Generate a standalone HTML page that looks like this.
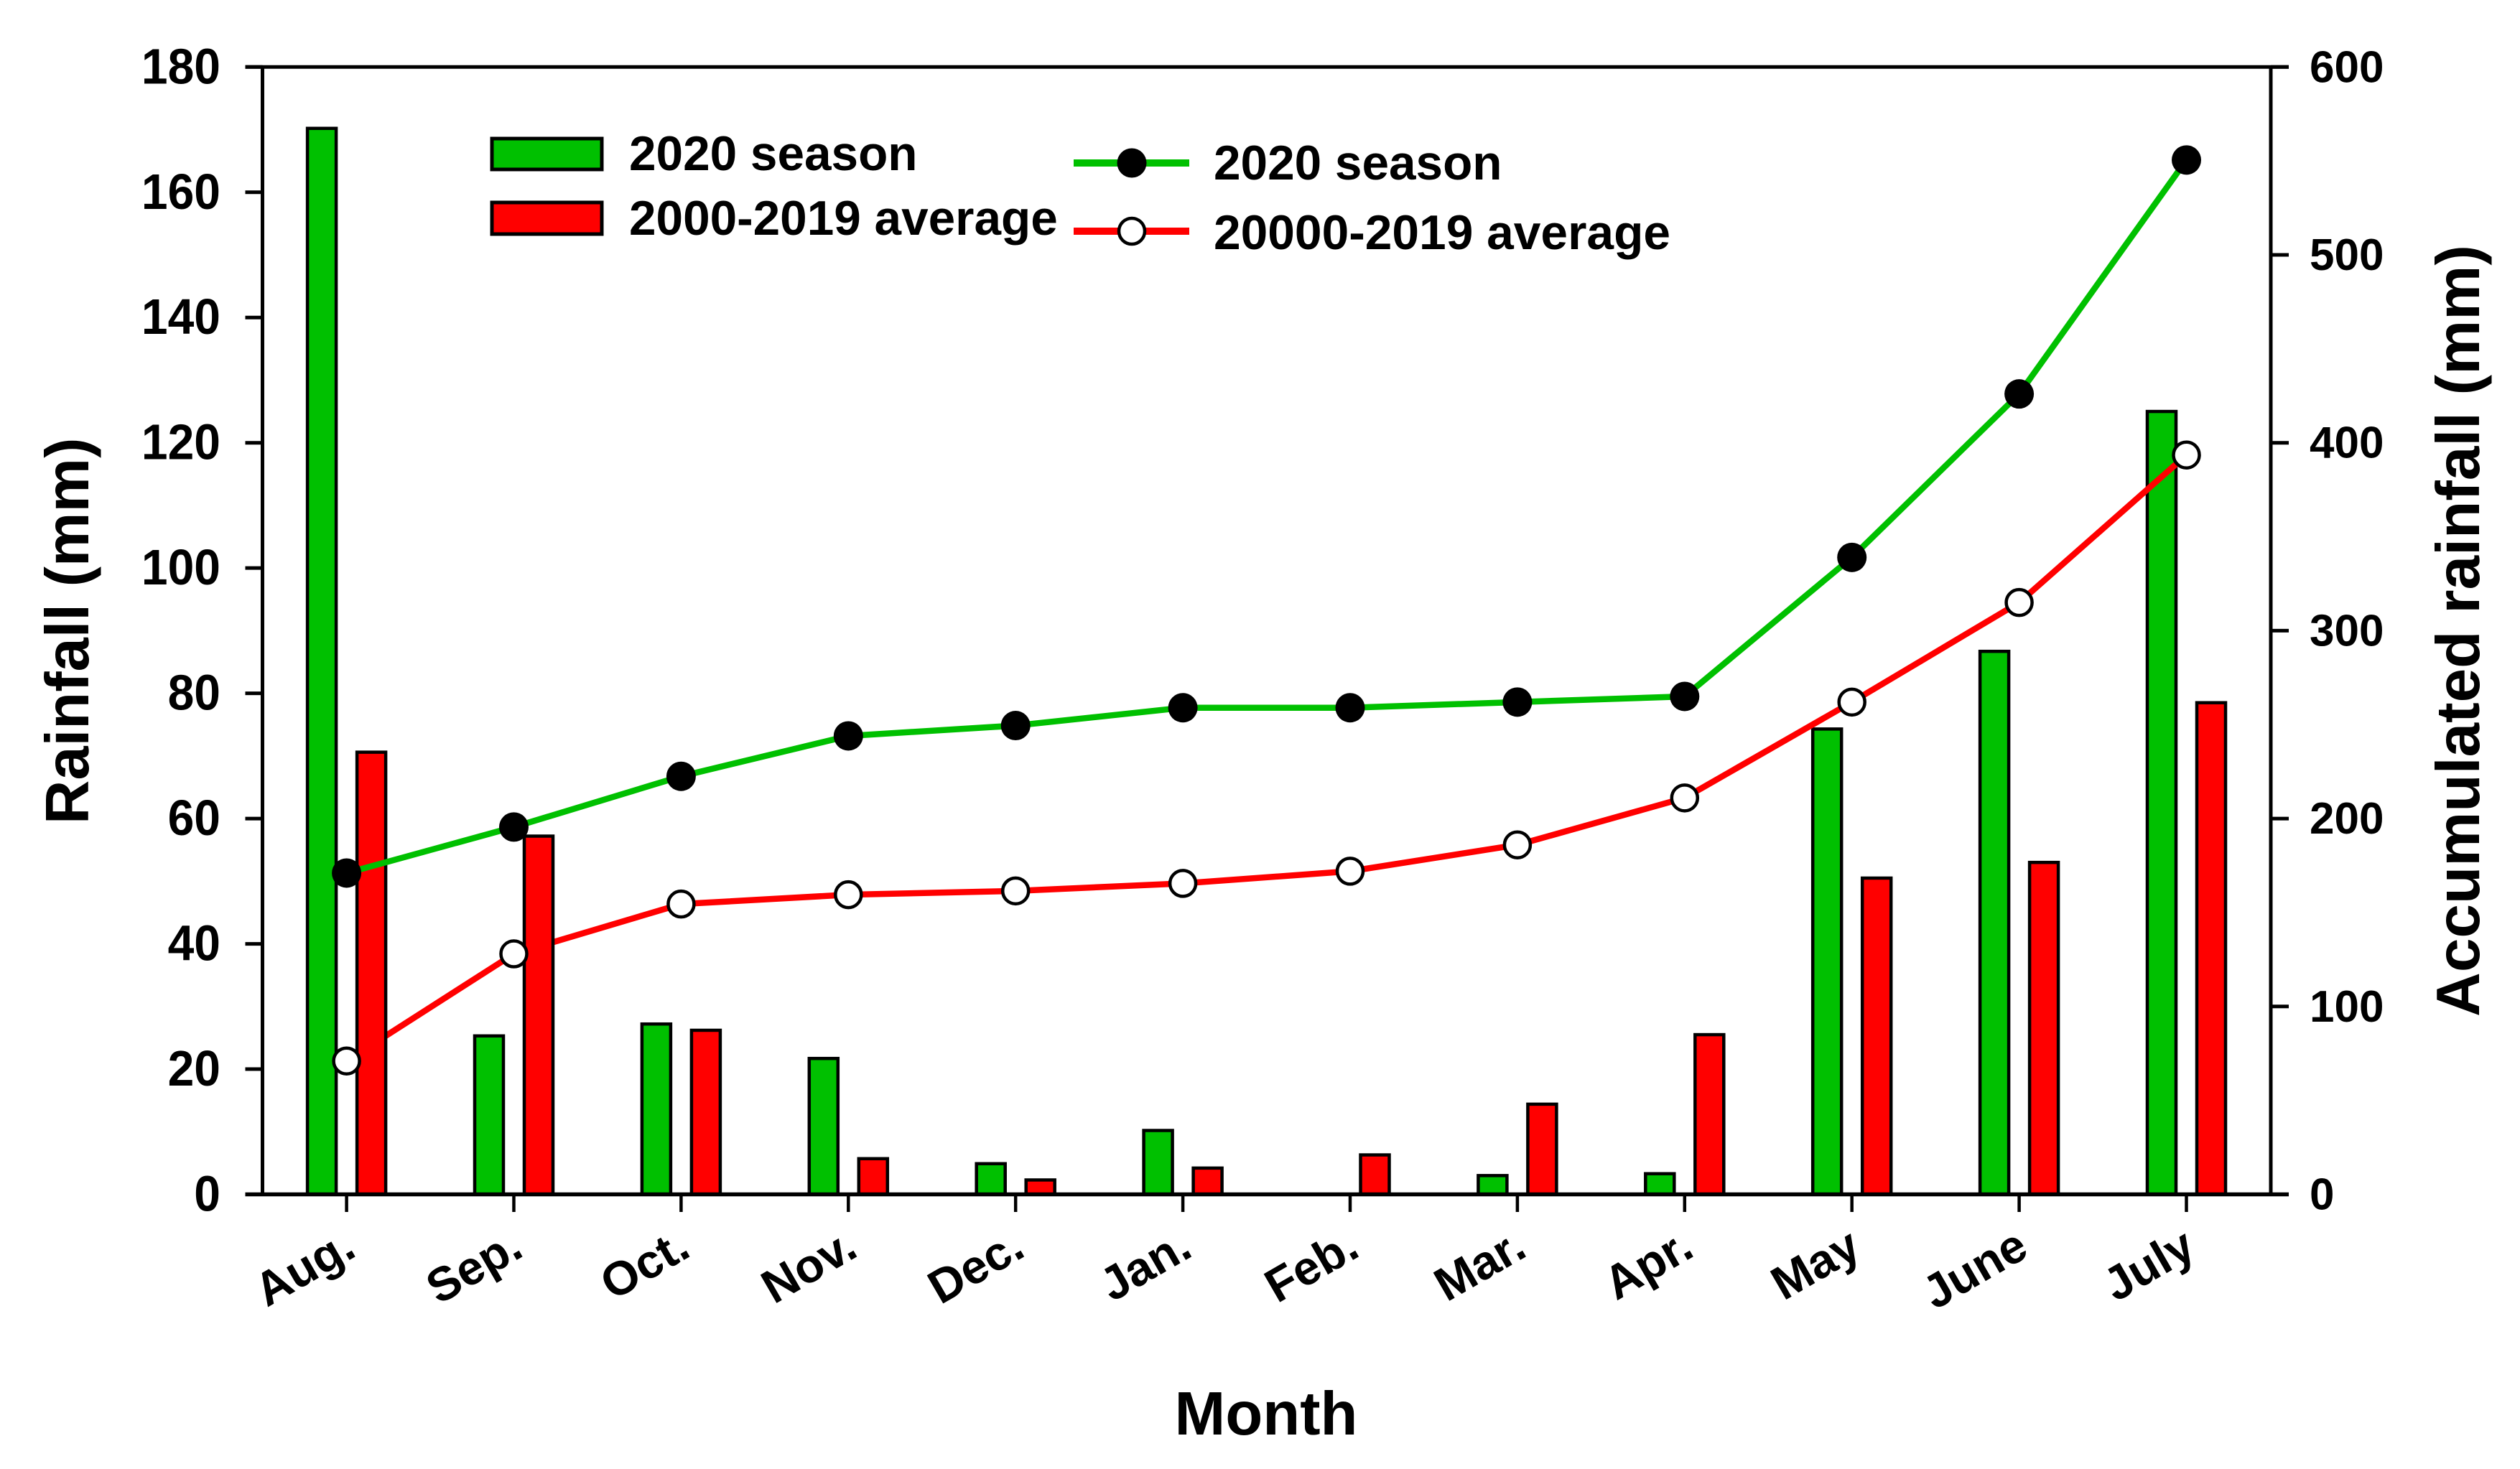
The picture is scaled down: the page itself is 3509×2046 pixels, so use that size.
<!DOCTYPE html>
<html lang="en">
<head>
<meta charset="utf-8">
<title>Monthly and accumulated rainfall</title>
<style>
html,body{margin:0;padding:0;background:#fff;}
svg{display:block;}
text{font-family:"Liberation Sans",Arial,sans-serif;font-weight:bold;fill:#000;}
</style>
</head>
<body>
<svg id="chart" xmlns="http://www.w3.org/2000/svg" width="3509" height="2046" viewBox="0 0 3509 2046">
  <rect x="0" y="0" width="3509" height="2046" fill="#fff"/>
  <g id="bars-2020"></g>
  <g id="line-average"></g>
  <g id="bars-average"></g>
  <g id="axes"></g>
  <g id="line-2020"></g>
  <g id="markers"></g>
  <text transform="translate(123,1148) rotate(-90)" font-size="85">Rainfall (mm)</text>
  <text transform="translate(3452,1416) rotate(-90)" font-size="85.6">Accumulated rainfall (mm)</text>
  <text x="1763" y="1998" text-anchor="middle" font-size="85">Month</text>
  <g>
    <rect x="685" y="193" width="153" height="43" fill="#00c000" stroke="#000" stroke-width="5"/>
    <text x="876" y="237" font-size="67.5">2020 season</text>
    <rect x="685" y="282" width="153" height="44" fill="#ff0000" stroke="#000" stroke-width="5"/>
    <text x="876" y="327" font-size="67.5">2000-2019 average</text>
    <line x1="1495" y1="227" x2="1656" y2="227" stroke="#00c000" stroke-width="10"/>
    <circle cx="1576" cy="227" r="20.5" fill="#000"/>
    <text x="1690" y="250" font-size="67.5">2020 season</text>
    <line x1="1495" y1="322" x2="1656" y2="322" stroke="#ff0000" stroke-width="10"/>
    <circle cx="1576" cy="322" r="18" fill="#fff" stroke="#000" stroke-width="4.5"/>
    <text x="1690" y="347" font-size="67.7">20000-2019 average</text>
  </g>
</svg>
<script>
const months = ["Aug.","Sep.","Oct.","Nov.","Dec.","Jan.","Feb.","Mar.","Apr.","May","June","July"];
const rain2020 = [170.2,25.3,27.2,21.7,4.9,10.2,0,3,3.3,74.3,86.7,125];
const rainAverage = [70.6,57.2,26.2,5.7,2.3,4.2,6.3,14.4,25.5,50.5,53,78.5];
const accumulated2020 = [171,195.5,222.5,244,249.5,259,259,262,265,339,426,550.5];
const accumulatedAverage = [71,128,154.5,159.5,161.5,165.5,172,186,211,262,315,393.5];
const leftTicks = [0,20,40,60,80,100,120,140,160,180];
const rightTicks = [0,100,200,300,400,500,600];

const NS = "http://www.w3.org/2000/svg";
const plot = {left:365.5, right:3162, top:93.3, bottom:1663.5};
function xAt(i){ return 482.6 + i * 232.9; }
function yLeft(v){ return plot.bottom - (v / 180) * (plot.bottom - plot.top); }
function yRight(v){ return plot.bottom - (v / 600) * (plot.bottom - plot.top); }
function make(tag, parent, attrs){
  const el = document.createElementNS(NS, tag);
  for (const k in attrs) el.setAttribute(k, attrs[k]);
  parent.appendChild(el);
  return el;
}
const axesG = document.getElementById("axes");
const markersG = document.getElementById("markers");
const barW = 40;

function drawBars(group, values, offset, color, key){
  values.forEach((v, i) => {
    if (v <= 0) return;
    const y = yLeft(v);
    const r = make("rect", group, {x:xAt(i)+offset-barW/2, y:y, width:barW, height:plot.bottom-y, fill:color, stroke:"#000", "stroke-width":4.5});
    
    
  });
}
drawBars(document.getElementById("bars-2020"), rain2020, -34.5, "#00c000", "2020");
drawBars(document.getElementById("bars-average"), rainAverage, 34.5, "#ff0000", "average");

function axisLine(name, x1, y1, x2, y2, w){
  const l = make("line", axesG, {x1:x1, y1:y1, x2:x2, y2:y2, stroke:"#000", "stroke-width":w});
  
  
}
axisLine("left-axis-line", plot.left, plot.top, plot.left, plot.bottom, 5);
axisLine("right-axis-line", plot.right, plot.top, plot.right, plot.bottom, 5);
axisLine("top-axis-line", 341.5, plot.top, 3187, plot.top, 5);
axisLine("bottom-axis-line", 341.5, plot.bottom, 3187, plot.bottom, 5.5);

leftTicks.forEach(v => {
  const y = yLeft(v);
  axisLine("left-tick-" + v, 341.5, y, plot.left, y, 5);
  const t = make("text", axesG, {transform:"translate(307," + (y+23) + ") scale(1,1.05)", "text-anchor":"end", "font-size":66});
  t.textContent = v;
  
  
});
rightTicks.forEach(v => {
  const y = yRight(v);
  axisLine("right-tick-" + v, plot.right, y, 3187, y, 5);
  const t = make("text", axesG, {x:3216, y:y+21, "font-size":62});
  t.textContent = v;
  
  
});
months.forEach((m, i) => {
  const x = xAt(i);
  axisLine("x-tick-" + m.replace('.','').toLowerCase(), x, plot.bottom, x, 1688, 4.5);
  const t = make("text", axesG, {transform:"translate(" + (x+16) + ",1748) rotate(-30)", "text-anchor":"end", "font-size":66});
  t.textContent = m;
  
  
});

function drawLine(group, values, color, key){
  const pts = values.map((v, i) => xAt(i) + "," + yRight(v)).join(" ");
  const pl = make("polyline", group, {points:pts, fill:"none", stroke:color, "stroke-width":8.5, "stroke-linejoin":"round"});
  
  
}
function drawMarkers(values, fill, sw, r, key){
  values.forEach((v, i) => {
    const c = make("circle", markersG, {cx:xAt(i), cy:yRight(v), r:r, fill:fill, stroke:"#000", "stroke-width":sw});
    
    
  });
}
drawLine(document.getElementById("line-average"), accumulatedAverage, "#ff0000", "average");
drawLine(document.getElementById("line-2020"), accumulated2020, "#00c000", "2020");
drawMarkers(accumulatedAverage, "#fff", 4.5, 18, "average");
drawMarkers(accumulated2020, "#000", 0, 20.5, "2020");
</script>
</body>
</html>
